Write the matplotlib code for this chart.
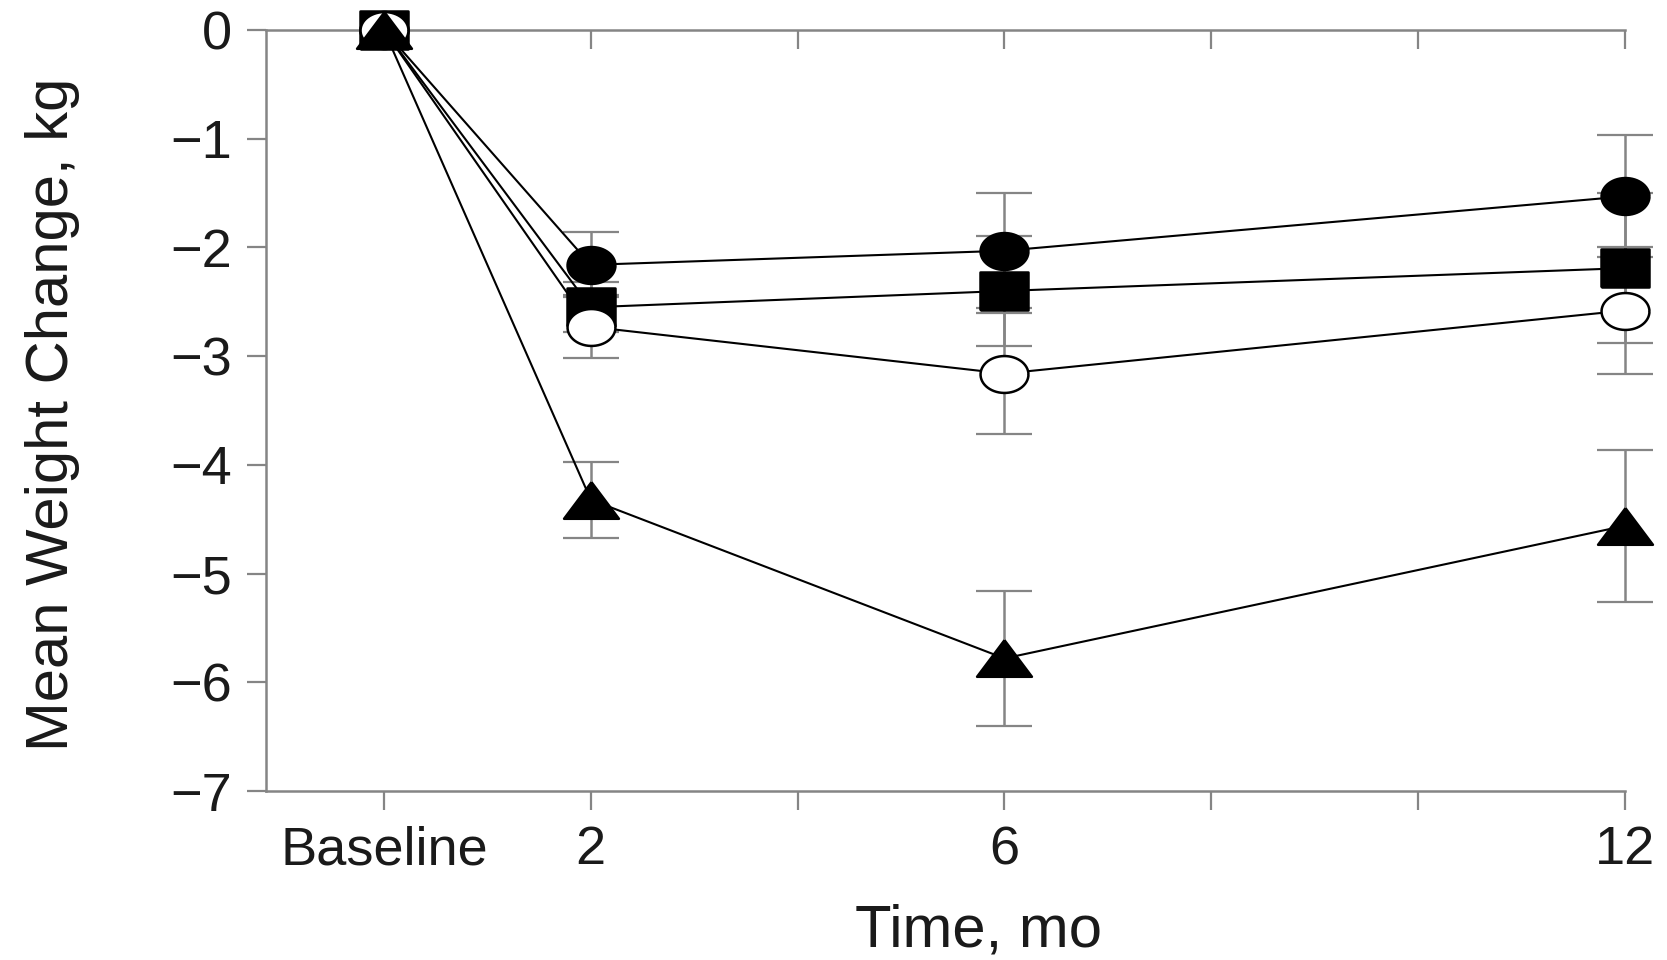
import numpy as np
import matplotlib
matplotlib.use("Agg")
import matplotlib.pyplot as plt

plt.rcParams['font.family'] = ['Liberation Sans', 'DejaVu Sans']

# months after baseline
months = [0, 2, 6, 12]
tick_labels = ["Baseline", "2", "", "6", "", "", "12"]

# mean weight change (kg) and error bars
circle_filled = [0, -2.16, -2.03, -1.53]
circle_filled_err = [0, 0.30, 0.53, 0.56]
square = [0, -2.55, -2.40, -2.19]
square_err = [0, 0.23, 0.51, 0.69]
circle_open = [0, -2.73, -3.16, -2.58]
circle_open_err = [0, 0.29, 0.56, 0.58]
triangle = [0, -4.32, -5.78, -4.56]
triangle_err = [0, 0.35, 0.62, 0.70]

# the original figure is stretched sideways, so markers are a bit wide
t = np.linspace(0, 2 * np.pi, 60)
ellipse = list(zip(np.cos(t), 0.77 * np.sin(t)))
rect = [(-1, -0.77), (1, -0.77), (1, 0.77), (-1, 0.77), (-1, -0.77)]
tri = [(0, 0.667), (-1, -0.667), (1, -0.667), (0, 0.667)]

fig = plt.figure(figsize=(16.67, 9.6), dpi=100)
ax = fig.add_axes([0.1596, 0.176, 0.8152, 0.7927])

grey = "#858585"
series = [
    (square, square_err, rect, "black", 35),
    (circle_filled, circle_filled_err, ellipse, "black", 34.5),
    (circle_open, circle_open_err, ellipse, "white", 34.5),
    (triangle, triangle_err, tri, "black", 39.5),
]

for vals, err, mk, fc, ms in series:
    ax.errorbar(months[1:], vals[1:], yerr=err[1:], fmt="none", ecolor=grey,
                elinewidth=1.8, capsize=20.5, capthick=1.6, zorder=2, clip_on=False)

for vals, err, mk, fc, ms in series:
    ax.plot(months, vals, color="black", lw=1.5, zorder=3, clip_on=False)

z = 4
for vals, err, mk, fc, ms in series:
    ax.plot(months, vals, ls="none", marker=mk, ms=ms, mfc=fc, mec="black",
            mew=1.8, zorder=z, clip_on=False)
    z += 1

ax.set_xlim(-1.14, 12)
ax.set_ylim(-7, 0)

ax.spines["right"].set_visible(False)
for s in ["left", "top", "bottom"]:
    ax.spines[s].set_color(grey)
    ax.spines[s].set_linewidth(1.8)

ax.set_yticks(range(-7, 1))
ax.set_xticks(range(0, 13, 2))
ax.set_xticklabels(tick_labels)
ax.tick_params(axis="both", colors=grey, width=1.6, length=13.5,
               labelcolor="#1a1a1a", labelsize=39)
ax.tick_params(axis="x", pad=11, top=False)
ax.tick_params(axis="y", pad=11)
# top ticks point inward
sec = ax.secondary_xaxis("top")
sec.set_xticks(range(0, 13, 2))
sec.tick_params(direction="in", length=13.5, width=1.6, colors=grey, labeltop=False)
sec.spines["top"].set_visible(False)

ax.set_xlabel("Time, mo", fontsize=43, color="#1a1a1a")
ax.xaxis.set_label_coords(0.524, -0.148)
ax.set_ylabel("Mean Weight Change, kg", fontsize=43, color="#1a1a1a")
ax.yaxis.set_label_coords(-0.137, 0.495)

fig.savefig("out.png", dpi=100)
